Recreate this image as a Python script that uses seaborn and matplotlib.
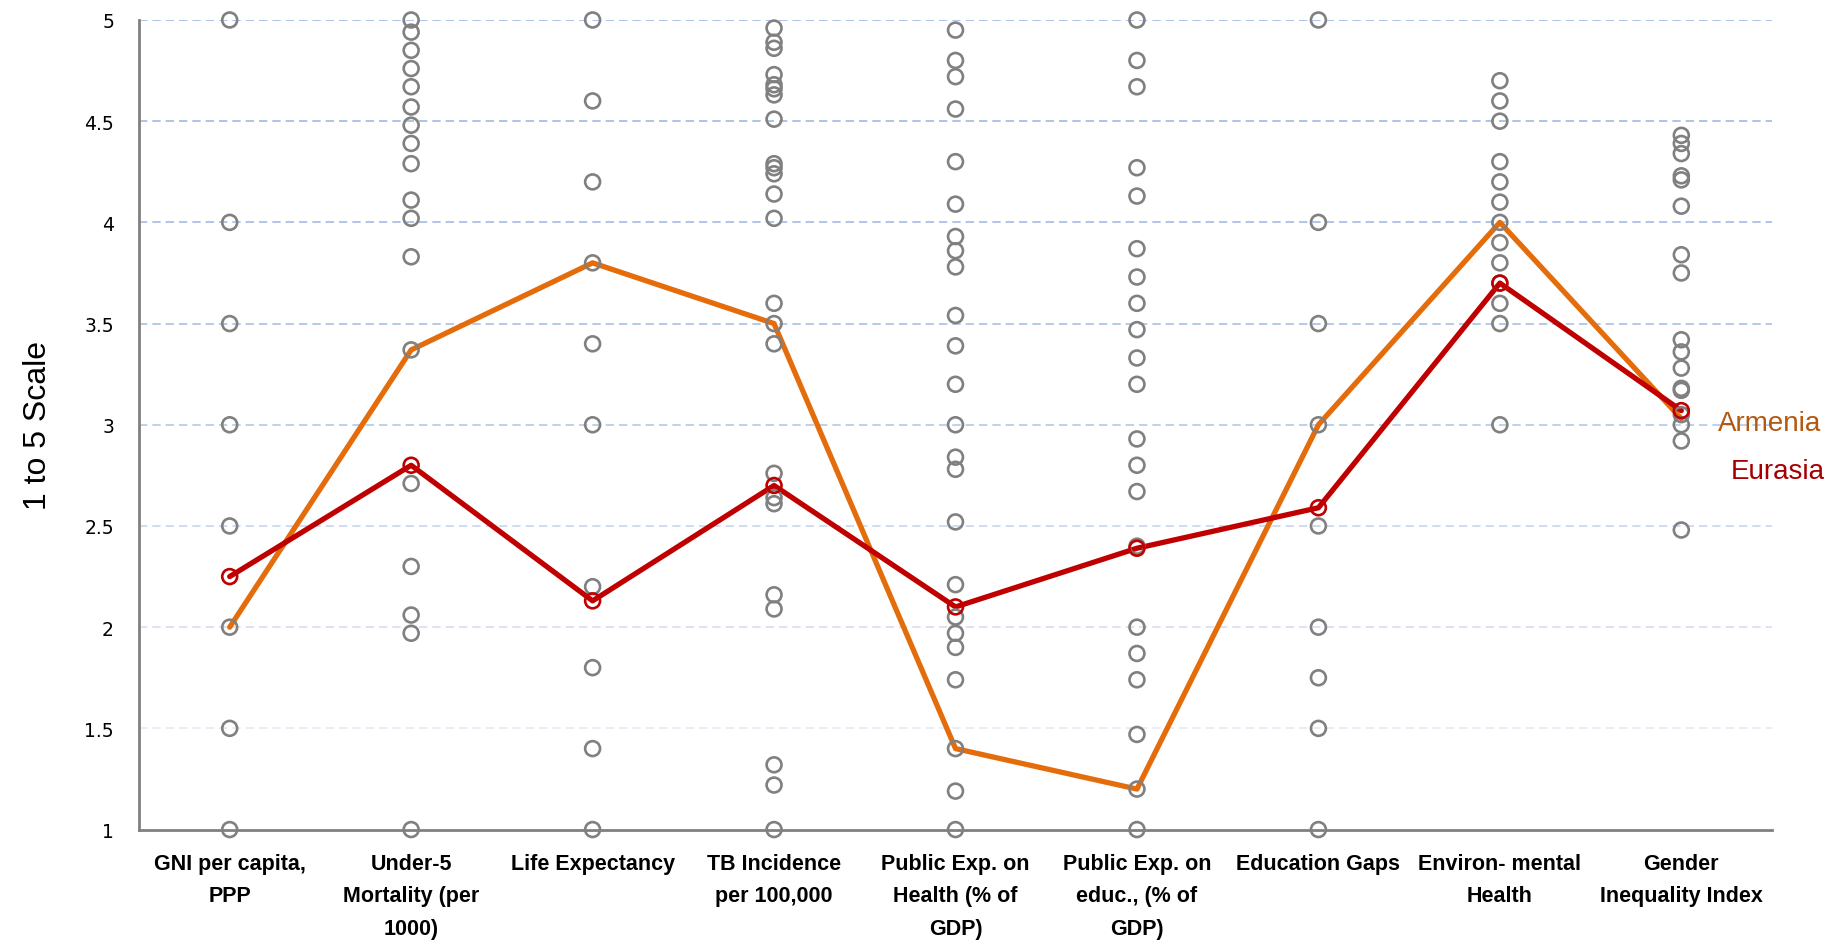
import numpy as np
import pandas as pd
import matplotlib
matplotlib.use("Agg")
import matplotlib.pyplot as plt
import seaborn as sns

categories = ["GNI per capita,\nPPP", "Under-5\nMortality (per\n1000)", "Life Expectancy",
              "TB Incidence\nper 100,000", "Public Exp. on\nHealth (% of\nGDP)",
              "Public Exp. on\neduc., (% of\nGDP)", "Education Gaps", "Environ- mental\nHealth",
              "Gender\nInequality Index"]

gni = [5.0, 4.0, 3.5, 3.0, 2.5, 2.0, 1.5, 1.0]
under5 = [5.0, 4.94, 4.85, 4.76, 4.67, 4.57, 4.48, 4.39, 4.29, 4.11, 4.02, 3.83, 3.37,
          2.71, 2.30, 2.06, 1.97, 1.0]
life_exp = [5.0, 4.6, 4.2, 3.8, 3.4, 3.0, 2.2, 1.8, 1.4, 1.0]
tb = [4.96, 4.89, 4.86, 4.73, 4.68, 4.66, 4.63, 4.51, 4.29, 4.27, 4.24, 4.14, 4.02, 3.60,
      3.50, 3.40, 2.76, 2.64, 2.61, 2.16, 2.09, 1.32, 1.22, 1.0]
health_exp = [4.95, 4.80, 4.72, 4.56, 4.30, 4.09, 3.93, 3.86, 3.78, 3.54, 3.39, 3.20, 3.0,
              2.84, 2.78, 2.52, 2.21, 2.05, 1.97, 1.90, 1.74, 1.40, 1.19, 1.0]
educ_exp = [5.0, 4.80, 4.67, 4.27, 4.13, 3.87, 3.73, 3.60, 3.47, 3.33, 3.20, 2.93, 2.80,
            2.67, 2.40, 2.0, 1.87, 1.74, 1.47, 1.20, 1.0]
edu_gaps = [5.0, 4.0, 3.5, 3.0, 2.5, 2.0, 1.75, 1.5, 1.0]
env_health = [4.7, 4.6, 4.5, 4.3, 4.2, 4.1, 4.0, 3.9, 3.8, 3.7, 3.6, 3.5, 3.0]
gender = [4.43, 4.39, 4.34, 4.23, 4.21, 4.08, 3.84, 3.75, 3.42, 3.36, 3.28, 3.18, 3.17,
          3.05, 3.0, 2.92, 2.48]

armenia = [2.0, 3.37, 3.80, 3.50, 1.40, 1.20, 3.00, 4.00, 3.03]
eurasia = [2.25, 2.80, 2.13, 2.70, 2.10, 2.39, 2.59, 3.70, 3.07]

yticks = [1, 1.5, 2, 2.5, 3, 3.5, 4, 4.5, 5]
ytick_labels = ["1", "1.5", "2", "2.5", "3", "3.5", "4", "4.5", "5"]

columns = [gni, under5, life_exp, tb, health_exp, educ_exp, edu_gaps, env_health, gender]
pos = np.arange(len(categories))
scatter_df = pd.DataFrame({
    "pos": np.concatenate([[p] * len(c) for p, c in zip(pos, columns)]),
    "value": np.concatenate(columns),
})
line_df = pd.DataFrame({"pos": pos, "Armenia": armenia, "Eurasia": eurasia})

sns.set_style("white")
plt.rcParams["font.family"] = ["Liberation Sans", "DejaVu Sans"]

fig = plt.figure(figsize=(18.48, 9.45), dpi=100)
ax = fig.add_axes([0.0752, 0.1211, 0.8837, 0.8567])

sns.lineplot(data=line_df, x="pos", y="Armenia", color="#E46C0A", linewidth=3.8,
             sort=False, ax=ax, zorder=2)
sns.lineplot(data=line_df, x="pos", y="Eurasia", color="#C00000", linewidth=3.8,
             sort=False, ax=ax, zorder=2.5)
sns.scatterplot(data=scatter_df, x="pos", y="value", ax=ax, s=115, marker="o",
                edgecolor="#808080", linewidth=1.9, zorder=3, clip_on=False)
ax.collections[-1].set_facecolor("none")
sns.scatterplot(data=line_df, x="pos", y="Eurasia", ax=ax, s=115, marker="o",
                edgecolor="#C00000", linewidth=1.9, zorder=4, clip_on=False)
ax.collections[-1].set_facecolor("none")

ax.set_xlim(-0.5, len(categories) - 0.5)
ax.set_ylim(1, 5)
ax.set_yticks(yticks)
ax.set_yticklabels(ytick_labels, fontsize=13.5, family="DejaVu Sans")
ax.tick_params(axis="y", length=0, pad=18, labelcolor="#000000")

ax.set_xticks(pos)
ax.set_xticklabels(categories, fontsize=15.5, fontweight="bold", linespacing=1.7,
                   va="top", color="#000000")
ax.set_xticks(np.arange(-0.5, len(categories), 1.0), minor=True)
ax.tick_params(axis="x", which="major", length=0, pad=17)
ax.tick_params(axis="x", which="minor", length=7, width=1.5, color="#808080", direction="out")

ax.set_xlabel("")
ax.set_ylabel("1 to 5 Scale", fontsize=23, color="#000000")
ax.yaxis.set_label_coords(-0.0527, 0.5)

ax.grid(axis="y", linestyle=(0, (5, 3)), linewidth=1.2)
ax.grid(axis="x", visible=False)
grid_colors = ["#ffffff", "#e3eaf6", "#d5dff2", "#c8d6ef", "#b4c8ec", "#a9c0e9", "#a3bbe8",
               "#a0b9e8", "#a0b9e8"]
for gl, c in zip(ax.get_ygridlines(), grid_colors):
    gl.set_color(c)
ax.set_axisbelow(True)

for side in ["top", "right"]:
    ax.spines[side].set_visible(False)
for side in ["left", "bottom"]:
    ax.spines[side].set_color("#808080")
    ax.spines[side].set_linewidth(2)

n = len(categories) - 1
ax.text(n + 0.2, 3.01, "Armenia", color="#B4570F", fontsize=20, va="center", ha="left",
        clip_on=False)
ax.text(n + 0.275, 2.77, "Eurasia", color="#A50000", fontsize=20, va="center", ha="left",
        clip_on=False)

fig.savefig("out.png", dpi=100, facecolor="white")
